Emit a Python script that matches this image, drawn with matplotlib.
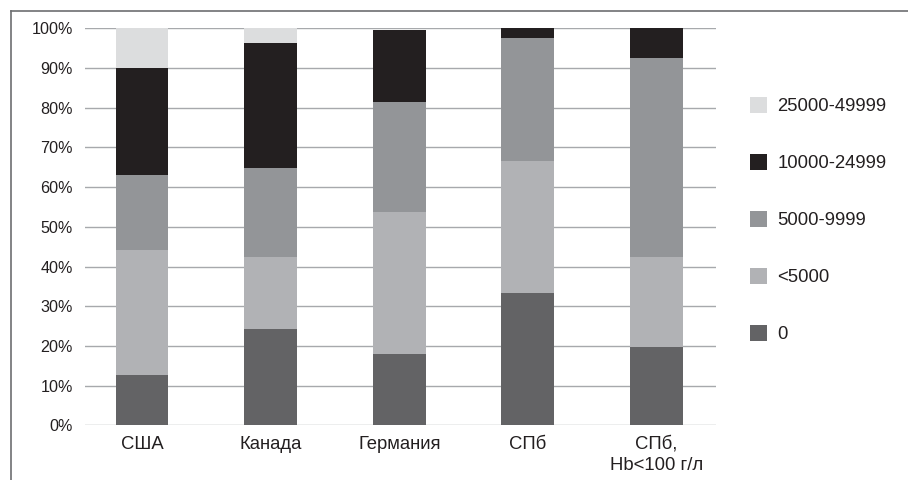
import numpy as np
import matplotlib
matplotlib.use('Agg')
import matplotlib.pyplot as plt
from matplotlib.patches import Patch
from matplotlib.lines import Line2D

plt.rcParams['font.family'] = ['Liberation Sans', 'DejaVu Sans']

categories = ['США', 'Канада', 'Германия', 'СПб', 'СПб,\nHb<100 г/л']
series_names = ['0', '<5000', '5000-9999', '10000-24999', '25000-49999']

# shares, %
s_zero = [12.7, 24.3, 18.0, 33.3, 19.7]
s_lt5000 = [31.5, 18.2, 35.7, 33.3, 22.8]
s_5000 = [18.9, 22.3, 27.7, 31.0, 50.0]
s_10000 = [26.9, 31.5, 18.2, 2.4, 7.5]
s_25000 = [10.0, 3.7, 0.0, 0.0, 0.0]

values = [s_zero, s_lt5000, s_5000, s_10000, s_25000]
colors = ['#636365', '#b1b2b5', '#939598', '#231f20', '#dcddde']

W, H = 908, 480
fig = plt.figure(figsize=(W / 100, H / 100), dpi=100)
ax = fig.add_axes([84.7 / W, 1 - 425.3 / H, (716 - 84.7) / W, (425.3 - 28.3) / H])

x = np.arange(len(categories))
bottom = np.zeros(len(categories))
for vals, col, name in zip(values, colors, series_names):
    ax.bar(x, vals, width=0.41, bottom=bottom, color=col, label=name, zorder=3)
    bottom += np.array(vals)

ax.set_ylim(0, 100)
ax.set_xlim(-0.446, 4.463)
ax.set_yticks(np.arange(0, 101, 10))
ax.set_yticklabels([f'{v}%' for v in range(0, 101, 10)])
ax.set_xticks(x)
ax.set_xticklabels(categories, linespacing=1.3)
ax.yaxis.grid(True, color='#a7a9ac', linewidth=1.0, zorder=0)
for s in ax.spines.values():
    s.set_visible(False)
ax.tick_params(axis='both', length=0, colors='#231f20')
ax.tick_params(axis='y', pad=8.4, labelsize=11.6)
ax.tick_params(axis='x', pad=7.5, labelsize=13.3)

handles = [Patch(facecolor=c, edgecolor='none') for c in colors][::-1]
fig.legend(handles, series_names[::-1], loc='upper left',
           bbox_to_anchor=(744 / W, 1 - 91 / H), frameon=False,
           fontsize=13.3, handlelength=0.97, handleheight=0.97,
           handletextpad=0.55, labelspacing=2.09, labelcolor='#231f20',
           borderaxespad=0, borderpad=0.3)

# outer frame (right and bottom clipped like the source)
fig.add_artist(Line2D([10.5 / W, 1], [1 - 10.5 / H] * 2, color='#6d6e71', lw=1.2))
fig.add_artist(Line2D([10.5 / W] * 2, [0, 1 - 10.5 / H], color='#6d6e71', lw=1.2))

fig.savefig('out.png', dpi=100)
